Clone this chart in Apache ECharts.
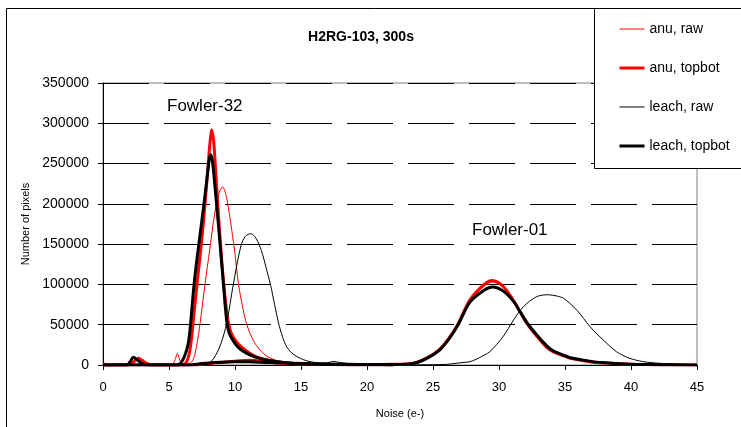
<!DOCTYPE html>
<html>
<head>
<meta charset="utf-8">
<script src="https://cdn.jsdelivr.net/npm/echarts@6/dist/echarts.min.js"></script>
<style>
html,body{margin:0;padding:0;background:#fff;}
#c{width:741px;height:427px;}
</style>
</head>
<body>
<div id="c"></div>
<script>
// ---- data ----
var seriesNames = ['anu, raw', 'anu, topbot', 'leach, raw', 'leach, topbot'];
var xTicks = [0, 5, 10, 15, 20, 25, 30, 35, 40, 45];
var yTicks = [0, 50000, 100000, 150000, 200000, 250000, 300000, 350000];

// Fowler-32 curves [noise, pixels]
var anuRaw32 = [[0,4000],[0.3,500],[1,0],[5.2,0],[5.45,6000],[5.63,14500],[5.85,5000],[6.1,1500],[6.5,1500],[6.8,6000],[7.0,16000],[7.3,45000],[7.7,97000],[8.1,145000],[8.48,190000],[8.8,214000],[9.07,221000],[9.3,212000],[9.5,195000],[9.75,168000],[10.0,138000],[10.25,102000],[10.6,70000],[10.9,50000],[11.4,30000],[11.9,18600],[12.5,10000],[13.5,4000],[15,1500],[17,600],[20,200],[22,0]];
var anuTop32 = [[0,0],[1.8,0],[2.2,2500],[2.5,6500],[2.68,8300],[2.9,6500],[3.3,2000],[3.8,0],[5.9,0],[6.3,3000],[6.6,20000],[6.9,65000],[7.15,105000],[7.45,150000],[7.73,200000],[7.95,245000],[8.1,275000],[8.23,292000],[8.38,278000],[8.5,250000],[8.69,200000],[8.9,150000],[9.15,100000],[9.4,62000],[9.7,40000],[10.2,27000],[10.9,17000],[11.5,11000],[12.5,6000],[14,2500],[16,900],[20,300],[22,0]];
var leachRaw32 = [[0,0],[7.5,0],[7.85,500],[8.36,7500],[8.9,25000],[9.37,52000],[9.87,100000],[10.45,148000],[10.8,160000],[11.2,163000],[11.6,157000],[12.0,142000],[12.35,121000],[12.7,99000],[13.0,75000],[13.3,52000],[13.6,35000],[13.9,23000],[14.3,15000],[14.7,10300],[15.2,6500],[15.7,4100],[16.5,2500],[17.0,2700],[17.45,4500],[17.9,3200],[19,1000],[20,500],[22,0]];
var leachTop32 = [[0,0],[1.8,0],[2.05,4000],[2.3,9500],[2.55,7000],[2.9,2500],[3.4,0],[5.6,0],[5.9,2500],[6.21,12400],[6.45,26000],[6.6,45000],[6.9,100000],[7.2,142000],[7.65,200000],[7.9,235000],[8.05,255000],[8.15,261000],[8.3,252000],[8.6,200000],[8.86,152000],[9.12,101000],[9.37,55000],[9.55,40000],[9.87,30000],[10.3,21000],[10.9,14500],[11.6,9500],[12.4,6200],[14,2500],[16,1000],[20,300],[22,0]];

// Fowler-01 curves [noise, pixels]
var anuRaw01 = [[6,0],[8,1500],[9.5,3500],[11,5000],[12.5,3200],[14,1800],[16,900],[20,400],[22,700],[23.5,2000],[24.5,8000],[25.5,18600],[26.2,31000],[26.9,49000],[27.8,79000],[28.9,98000],[29.5,103000],[30.3,97000],[31.1,79000],[31.6,65000],[32.1,51000],[32.85,35500],[33.6,21500],[34.1,16000],[35.1,9800],[35.4,8000],[37.1,3400],[37.9,2400],[39.9,700],[42,300],[45,0]];
var anuTop01 = [[0,0],[7,0],[8,2000],[9.5,4000],[11.2,6000],[12.5,3500],[14,2000],[16,1000],[20,500],[22,800],[23.5,2200],[24.5,8500],[25.5,19500],[26.2,33000],[26.9,51000],[27.8,81000],[28.9,100500],[29.5,105000],[30.3,98000],[31.1,80000],[31.6,66000],[32.1,52000],[32.85,36000],[33.6,22000],[34.1,16500],[35.1,10000],[35.4,8300],[37.1,3500],[37.9,2500],[39.9,800],[42,300],[45,0]];
var leachRaw01 = [[20,0],[24,200],[26,800],[27.2,3000],[27.8,4100],[28.5,9000],[29.3,16500],[30.3,35000],[31.1,55800],[31.85,72400],[32.85,84800],[33.74,87200],[34.4,85500],[34.9,82700],[35.9,68000],[36.9,47500],[37.9,31000],[38.9,16500],[39.9,8300],[41.2,3500],[43.7,800],[45,300]];
var leachTop01 = [[0,0],[6.5,0],[7.5,2000],[9,3500],[10,4100],[11,4000],[12.5,3200],[14,2500],[16,1500],[18,1000],[20,600],[22,700],[23.5,2000],[24.5,8000],[25.5,18600],[26.2,32000],[26.9,50000],[27.8,78000],[28.9,93000],[29.5,96800],[30.3,92000],[31.1,79000],[31.6,66000],[32.1,53000],[32.85,37500],[33.6,24000],[34.1,17500],[35.1,11000],[35.4,9000],[37.1,4200],[37.9,3000],[39.9,1000],[42,400],[45,0]];

var annotations = [
  {text: 'Fowler-32', x: 167, y: 107},
  {text: 'Fowler-01', x: 472, y: 231}
];

// ---- styles ----
var styles = {
  'anu, raw':      {color: '#ff0000', width: 1},
  'anu, topbot':   {color: '#ff0000', width: 3},
  'leach, raw':    {color: '#000000', width: 1},
  'leach, topbot': {color: '#000000', width: 3}
};
var FONT = 'Liberation Sans, Arial, sans-serif';

function mk(name, data) {
  var s = styles[name];
  return {
    name: name, type: 'line', data: data, symbol: 'none', showSymbol: false,
    smooth: 0.3,
    lineStyle: {color: s.color, width: s.width},
    itemStyle: {color: s.color},
    silent: true, animation: false, clip: true
  };
}

var series = [
  mk('anu, raw', anuRaw32), mk('anu, raw', anuRaw01),
  mk('anu, topbot', anuTop32), mk('anu, topbot', anuTop01),
  mk('leach, raw', leachRaw32), mk('leach, raw', leachRaw01),
  mk('leach, topbot', leachTop32), mk('leach, topbot', leachTop01)
];

var legendData = seriesNames.map(function (n) {
  return {name: n, lineStyle: {color: styles[n].color, width: styles[n].width}};
});

var chart = echarts.init(document.getElementById('c'), null, {renderer: 'canvas'});
chart.setOption({
  animation: false,
  backgroundColor: '#ffffff',
  textStyle: {fontFamily: FONT},
  title: {
    text: 'H2RG-103, 300s', left: 356, top: 25, textAlign: 'center',
    textStyle: {fontFamily: FONT, fontSize: 14, fontWeight: 'bold', color: '#000'}
  },
  grid: {left: 103, right: 44, top: 83, bottom: 62, show: true, borderColor: '#808080', borderWidth: 1, backgroundColor: 'transparent'},
  xAxis: {
    type: 'value', min: xTicks[0], max: xTicks[xTicks.length - 1], interval: 5,
    name: 'Noise (e-)', nameLocation: 'middle', nameGap: 43,
    nameTextStyle: {fontFamily: FONT, fontSize: 11, color: '#000'},
    axisLine: {show: true, onZero: false, lineStyle: {color: '#000', width: 1}},
    axisTick: {show: true, length: 5, lineStyle: {color: '#000'}},
    axisLabel: {fontFamily: FONT, fontSize: 13, color: '#000', margin: 16},
    splitLine: {show: false}
  },
  yAxis: {
    type: 'value', min: yTicks[0], max: yTicks[yTicks.length - 1], interval: 50000,
    name: 'Number of pixels', nameLocation: 'middle', nameGap: 70, nameRotate: 90,
    nameTextStyle: {fontFamily: FONT, fontSize: 11, color: '#000'},
    axisLine: {show: true, lineStyle: {color: '#000', width: 1}},
    axisTick: {show: true, length: 5, lineStyle: {color: '#000'}},
    axisLabel: {fontFamily: FONT, fontSize: 14, color: '#000', margin: 14, formatter: function (v) { return String(v); }},
    splitLine: {show: true, lineStyle: {color: '#000', width: 1, type: [46, 15]}}
  },
  legend: {
    data: legendData, orient: 'vertical', left: 613, top: 17,
    itemWidth: 25, itemHeight: 14, itemGap: 25,
    itemStyle: {color: 'rgba(0,0,0,0)', borderWidth: 0, opacity: 0},
    textStyle: {fontFamily: FONT, fontSize: 14, color: '#000'},
    selectedMode: false, z: 10
  },
  graphic: [
    {type: 'rect', shape: {x: 6.5, y: 8.5, width: 800, height: 500}, style: {fill: null, stroke: '#000', lineWidth: 1}, silent: true, z: -10},
    {type: 'rect', shape: {x: 594.5, y: 8.5, width: 200, height: 160}, style: {fill: '#fff', stroke: '#000', lineWidth: 1}, silent: true, z: 1}
  ].concat(annotations.map(function (a) {
    return {type: 'text', left: a.x, top: a.y - 9, style: {text: a.text, font: '17px ' + FONT, fill: '#000'}, silent: true, z: 5};
  })),
  series: series
});
</script>
</body>
</html>
